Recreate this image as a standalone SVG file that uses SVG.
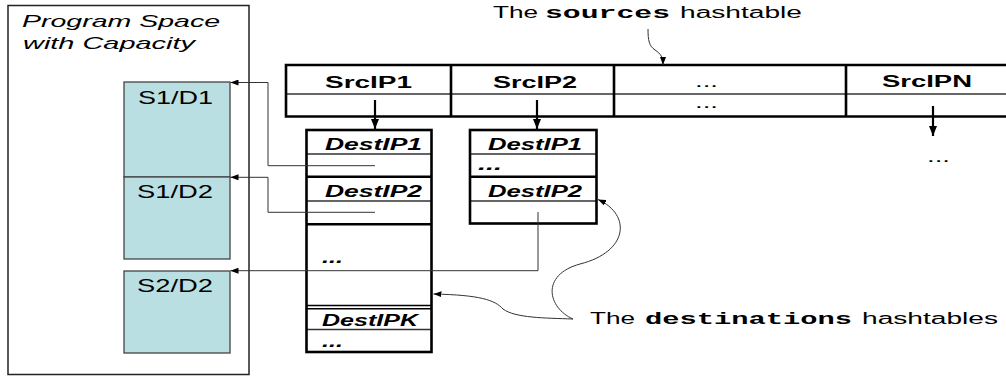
<svg xmlns="http://www.w3.org/2000/svg" width="1006" height="377" viewBox="0 0 1006 377">
<style>
.t{font-family:"Liberation Sans",Arial,sans-serif;fill:#000}
.it{font-style:italic;font-size:17px}
.lbl{font-size:18px}
.b{font-weight:bold;font-size:16px}
.bi{font-weight:bold;font-style:italic;font-size:16px}
.n{font-size:16px}
.m{font-family:"Liberation Mono","Courier New",monospace;font-weight:bold;font-size:16px;fill:#000}
.thick{stroke:#000;stroke-width:2.6;fill:none}
.thin{stroke:#333;stroke-width:1.3;fill:none}
.teal{fill:#BADFE2;stroke:#444;stroke-width:1.3}
.conn{stroke:#333;stroke-width:1;fill:none}
.down{stroke:#000;stroke-width:2.2;fill:none}
</style>
<defs>
<marker id="ah" markerUnits="userSpaceOnUse" markerWidth="8" markerHeight="6" refX="8" refY="3" orient="auto"><path d="M0,0 L8,3 L0,6 z" fill="#000"/></marker>
<marker id="ahd" markerUnits="userSpaceOnUse" markerWidth="10" markerHeight="8" refX="10" refY="4" orient="auto"><path d="M0,0 L10,4 L0,8 z" fill="#000"/></marker>
</defs>
<rect width="1006" height="377" fill="#fff"/>

<g id="program-space">
<rect x="8" y="5.5" width="241" height="369" fill="none" stroke="#222" stroke-width="1.5"/>
<text class="t it" x="22" y="27" textLength="198" lengthAdjust="spacingAndGlyphs">Program Space</text>
<text class="t it" x="23" y="49" textLength="172" lengthAdjust="spacingAndGlyphs">with Capacity</text>
</g>
<g id="s1d1">
<rect class="teal" x="124" y="82" width="106" height="95"/>
<text class="t lbl" x="138" y="103.5" textLength="75" lengthAdjust="spacingAndGlyphs">S1/D1</text>
</g>
<g id="s1d2">
<rect class="teal" x="124" y="177" width="106" height="82"/>
<text class="t lbl" x="137" y="197.5" textLength="76" lengthAdjust="spacingAndGlyphs">S1/D2</text>
</g>
<g id="s2d2">
<rect class="teal" x="124" y="271" width="106" height="82"/>
<text class="t lbl" x="137" y="292" textLength="76" lengthAdjust="spacingAndGlyphs">S2/D2</text>
</g>

<g id="sources-table">
<line class="thin" x1="286" y1="94" x2="1010" y2="94"/>
<path class="thick" d="M1010,65 H286 V116.5 H1010 M451,65 V116.5 M614,65 V116.5 M846,65 V116.5"/>
<text class="t b" x="325" y="87.5" textLength="87" lengthAdjust="spacingAndGlyphs">SrcIP1</text>
<text class="t b" x="493" y="87.5" textLength="84" lengthAdjust="spacingAndGlyphs">SrcIP2</text>
<text class="t n" x="695" y="86.5" textLength="23" lengthAdjust="spacingAndGlyphs">...</text>
<text class="t n" x="695" y="108" textLength="23" lengthAdjust="spacingAndGlyphs">...</text>
<text class="t b" x="882" y="87" textLength="90" lengthAdjust="spacingAndGlyphs">SrcIPN</text>
</g>

<g id="destinations-1">
<path class="thin" d="M306.5,154 H431.5 M306.5,201 H431.5 M306.5,329.5 H431.5"/>
<rect class="thick" x="306.5" y="130" width="125" height="222"/>
<path class="thick" d="M306.5,176.7 H431.5 M306.5,224.3 H431.5"/>
<path stroke="#000" stroke-width="1.6" fill="none" d="M306.5,305.5 H431.5 M306.5,308.8 H431.5"/>
<text class="t bi" x="325" y="150" textLength="97" lengthAdjust="spacingAndGlyphs">DestIP1</text>
<text class="t bi" x="325" y="196.5" textLength="97" lengthAdjust="spacingAndGlyphs">DestIP2</text>
<text class="t bi" x="322" y="263" textLength="21" lengthAdjust="spacingAndGlyphs">...</text>
<text class="t bi" x="322" y="326" textLength="96" lengthAdjust="spacingAndGlyphs">DestIPK</text>
<text class="t bi" x="322" y="346.5" textLength="21" lengthAdjust="spacingAndGlyphs">...</text>
</g>

<g id="destinations-2">
<path class="thin" d="M470,154 H596.5 M470,201 H596.5"/>
<rect class="thick" x="470" y="130" width="126.5" height="93.5"/>
<path class="thick" d="M470,176.7 H596.5"/>
<text class="t bi" x="488" y="150" textLength="94" lengthAdjust="spacingAndGlyphs">DestIP1</text>
<text class="t bi" x="478" y="170" textLength="24" lengthAdjust="spacingAndGlyphs">...</text>
<text class="t bi" x="488" y="196.5" textLength="94" lengthAdjust="spacingAndGlyphs">DestIP2</text>
</g>

<g id="srcipn-more">
<text class="t n" x="927" y="161.5" textLength="23" lengthAdjust="spacingAndGlyphs">...</text>
</g>

<g id="label-sources">
<text class="t n" x="493" y="17.5" textLength="45" lengthAdjust="spacingAndGlyphs">The</text>
<text class="m" x="545" y="17.5" textLength="125" lengthAdjust="spacingAndGlyphs">sources</text>
<text class="t n" x="680" y="17.5" textLength="122" lengthAdjust="spacingAndGlyphs">hashtable</text>
</g>

<g id="label-destinations">
<text class="t n" x="590" y="323.5" textLength="45" lengthAdjust="spacingAndGlyphs">The</text>
<text class="m" x="645" y="323.5" textLength="207" lengthAdjust="spacingAndGlyphs">destinations</text>
<text class="t n" x="862" y="323.5" textLength="136" lengthAdjust="spacingAndGlyphs">hashtables</text>
</g>

<g id="connectors">
<line class="down" x1="375" y1="100" x2="375" y2="129" marker-end="url(#ahd)"/>
<line class="down" x1="537" y1="100" x2="537" y2="129" marker-end="url(#ahd)"/>
<line class="down" x1="933" y1="106" x2="933" y2="136" marker-end="url(#ahd)"/>
<polyline class="conn" points="375,165.7 268,165.7 268,82.5 230.5,82.5" marker-end="url(#ah)"/>
<polyline class="conn" points="375,212.3 268,212.3 268,177.3 230.5,177.3" marker-end="url(#ah)"/>
<polyline class="conn" points="538,212 538,270.7 230.5,270.7" marker-end="url(#ah)"/>
<path class="conn" d="M648,29 C648,40 649,46 655,50 C661,54 663,57 663,65" marker-end="url(#ah)"/>
<path class="conn" d="M573,319 C545,318 515,318 503,309 C495,300 480,295 433.5,294" marker-end="url(#ah)"/>
<path class="conn" d="M573,319 C548,308 540,275 580,264 C628,252 632,215 598,199.5" marker-end="url(#ah)"/>
</g>
</svg>
